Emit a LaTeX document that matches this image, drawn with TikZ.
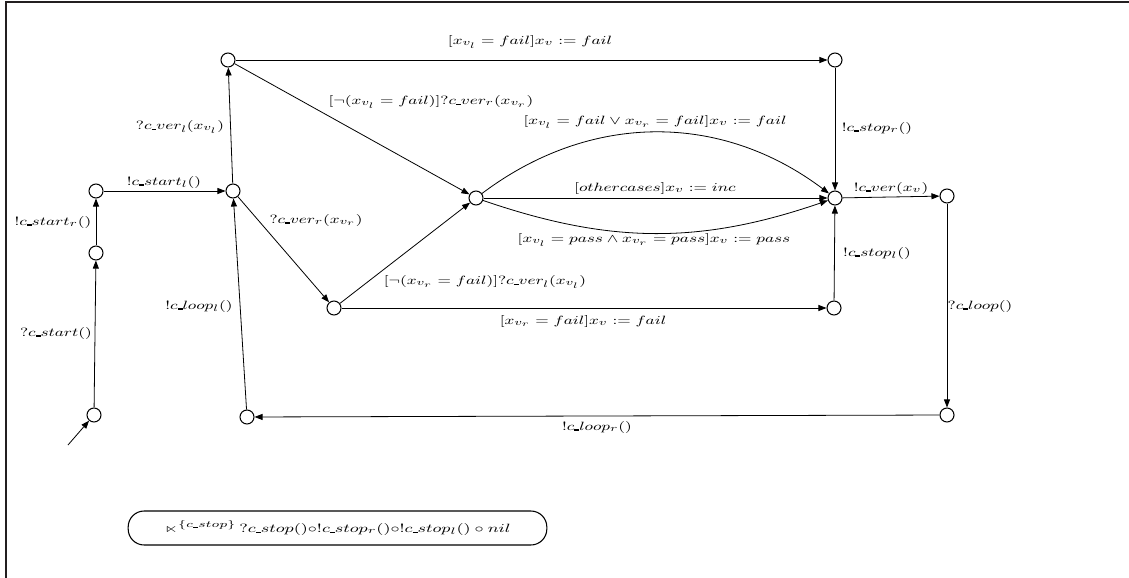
\documentclass[tikz,border=0pt]{standalone}
\usepackage{amssymb}
\usepackage{graphicx}
\usetikzlibrary{arrows.meta}
\DeclareMathSizes{9}{9}{7}{6}
% wide math labels
\newcommand\lab[1]{\scalebox{1.4}[1]{$#1$}}
% short low bar used inside channel names
\newcommand\us{\mbox{\rule[-0.4pt]{2.6pt}{1.1pt}}}
\begin{document}
\begin{tikzpicture}[x=0.75pt,y=-0.75pt,
  state/.style={circle,draw,line width=0.8pt,minimum size=10.5pt,inner sep=0pt,fill=white},
  tr/.style={line width=0.6pt,-{Triangle[length=6pt,width=4.5pt]}},
  lbl/.style={font=\fontsize{9}{11}\selectfont,inner sep=0pt},
  frame/.style={line width=1.9pt,draw={rgb,255:red,35;green,31;blue,32}}]
\useasboundingbox (0,0) rectangle (1129,578);
\draw[frame] (6,578) -- (6,2) -- (1129,2);

% states
\node[state] (s0)  at (94,415) {};
\node[state] (s1)  at (96,253) {};
\node[state] (s2)  at (96,191) {};
\node[state] (s3)  at (233,191) {};
\node[state] (s4)  at (228,60) {};
\node[state] (s5)  at (835,60) {};
\node[state] (s6)  at (476,198) {};
\node[state] (s7)  at (835,198) {};
\node[state] (s8)  at (947,196) {};
\node[state] (s9)  at (334,308) {};
\node[state] (s10) at (834,308) {};
\node[state] (s11) at (947,415) {};
\node[state] (s12) at (247,417) {};
\coordinate (init) at (68,445);

% transitions
\draw[tr] (init) -- (s0);
\draw[tr] (s0) -- (s1);
\draw[tr] (s1) -- (s2);
\draw[tr] (s2) -- (s3);
\draw[tr] (s3) -- (s4);
\draw[tr] (s3) -- (s9);
\draw[tr] (s4) -- (s5);
\draw[tr] (s4) -- (s6);
\draw[tr] (s9) -- (s6);
\draw[tr] (s9) -- (s10);
\draw[tr] (s6) to[bend left=37] (s7);
\draw[tr] (s6) -- (s7);
\draw[tr] (s6) to[bend right=19] (s7);
\draw[tr] (s5) -- (s7);
\draw[tr] (s10) -- (s7);
\draw[tr] (s7) -- (s8);
\draw[tr] (s8) -- (s11);
\draw[tr] (s11) -- (s12);
\draw[tr] (s12) -- (s3);

% labels
\node[lbl] (l0)  at (56,333)  {\lab{?c\us start()}};
\node[lbl] (l1)  at (53,222)  {\lab{!c\us start_r()}};
\node[lbl] (l2)  at (164,182) {\lab{!c\us start_l()}};
\node[lbl] (l3)  at (180,127) {\lab{?c\us ver_l(x_{v_l})}};
\node[lbl] (l4)  at (316,220) {\lab{?c\us ver_r(x_{v_r})}};
\node[lbl] (l5)  at (530,42)  {\lab{[x_{v_l}=fail]x_v:=fail}};
\node[lbl] (l6)  at (431,102) {\lab{[\neg(x_{v_l}=fail)]?c\us ver_r(x_{v_r})}};
\node[lbl] (l7)  at (655,122) {\lab{[x_{v_l}=fail\vee x_{v_r}=fail]x_v:=fail}};
\node[lbl] (l8)  at (655,188) {\lab{[othercases]x_v:=inc}};
\node[lbl] (l9)  at (654,240) {\lab{[x_{v_l}=pass\wedge x_{v_r}=pass]x_v:=pass}};
\node[lbl] (l10) at (485,282) {\lab{[\neg(x_{v_r}=fail)]?c\us ver_l(x_{v_l})}};
\node[lbl] (l11) at (583,321) {\lab{[x_{v_r}=fail]x_v:=fail}};
\node[lbl] (l12) at (597,427) {\lab{!c\us loop_r()}};
\node[lbl] (l13) at (199,306) {\lab{!c\us loop_l()}};
\node[lbl] (l14) at (877,128) {\lab{!c\us stop_r()}};
\node[lbl] (l15) at (877,253) {\lab{!c\us stop_l()}};
\node[lbl] (l16) at (891,188) {\lab{!c\us ver(x_v)}};
\node[lbl] (l17) at (980,306) {\lab{?c\us loop()}};

% stop process box
\node[draw,line width=0.8pt,rounded corners=12pt,minimum width=314pt,minimum height=25.5pt,
      font=\fontsize{9}{11}\selectfont] (stop) at (337.5,528)
  {\scalebox{1.47}[1]{$\ltimes^{\{c\us stop\}}\,?c\us stop(){\circ}!c\us stop_r(){\circ}!c\us stop_l()\circ nil$}};
\end{tikzpicture}
\end{document}
